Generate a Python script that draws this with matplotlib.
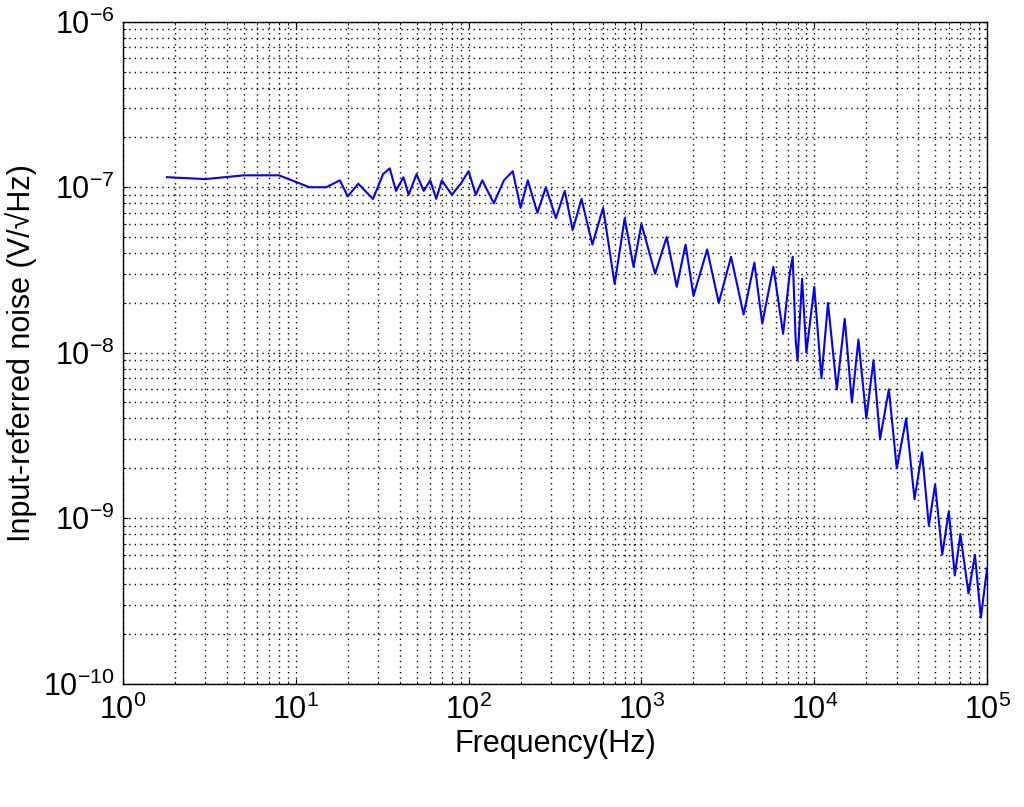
import matplotlib
matplotlib.use("Agg")
import matplotlib.pyplot as plt

plt.rcParams["font.family"] = "Liberation Sans"

# frequency (Hz) and input-referred noise (V/sqrt(Hz))
freq_hz = [
    1.8, 3, 5, 8, 12, 15, 18, 20, 23, 28, 32, 35, 38, 42, 45, 50, 55, 60, 65,
    70, 80, 90, 100, 110, 120, 140, 160, 180,
    200, 220, 250, 280, 320, 360, 400, 450, 520, 600, 700, 800, 900, 1000,
    1200, 1400, 1600, 1800, 2000, 2400, 2800, 3300, 3900, 4500, 5000, 5800,
    6600, 7200, 7500, 7800, 8000, 8500, 9000, 10000, 11000, 12000, 13500,
    15000, 16500, 18000, 20000, 22000, 24000, 27000, 30000, 34000, 38000,
    42000, 46000, 50000, 55000, 60000, 65000, 70000, 78000, 85000, 92000,
    100000,
]
noise_v = [
    1.15e-7, 1.12e-7, 1.18e-7, 1.18e-7, 1.0e-7, 1.0e-7, 1.1e-7, 0.88e-7,
    1.05e-7, 0.85e-7, 1.2e-7, 1.3e-7, 0.95e-7, 1.15e-7, 0.9e-7, 1.2e-7,
    0.95e-7, 1.1e-7, 0.85e-7, 1.1e-7, 0.9e-7, 1.05e-7, 1.25e-7, 0.9e-7,
    1.1e-7, 0.8e-7, 1.1e-7, 1.25e-7,
    0.75e-7, 1.1e-7, 0.7e-7, 1.0e-7, 0.65e-7, 0.95e-7, 0.55e-7, 0.85e-7,
    0.45e-7, 0.75e-7, 0.26e-7, 0.65e-7, 0.33e-7, 0.6e-7, 0.3e-7, 0.5e-7,
    0.25e-7, 0.45e-7, 0.22e-7, 0.42e-7, 0.2e-7, 0.38e-7, 0.17e-7, 0.35e-7,
    0.15e-7, 0.33e-7, 0.13e-7, 0.3e-7, 0.38e-7, 0.12e-7, 0.09e-7, 0.28e-7,
    0.1e-7, 0.25e-7, 7e-9, 2e-8, 6e-9,
    1.6e-8, 5e-9, 1.2e-8, 4e-9, 9e-9, 3e-9, 6e-9, 2e-9, 4e-9, 1.3e-9,
    2.5e-9, 9e-10, 1.6e-9, 6e-10, 1.1e-9, 4.5e-10, 8e-10, 3.5e-10, 6e-10,
    2.5e-10, 5e-10,
]

fig = plt.figure(figsize=(10.24, 8.07), dpi=100)
ax = fig.add_axes([0.12, 0.153, 0.844, 0.82])
ax.loglog(freq_hz, noise_v, color="#0000ff", linewidth=1.5)
ax.set_xlim(1, 1e5)
ax.set_ylim(1e-10, 1e-6)
ax.grid(True, which="both", color="black", linestyle=(0, (1, 3)), linewidth=1.0)
ax.tick_params(which="both", direction="in", top=True, right=True, labelsize=22)
ax.tick_params(axis="x", pad=8)
ax.tick_params(axis="y", pad=6)
for s in ax.spines.values():
    s.set_linewidth(1.0)
ax.set_xlabel("Frequency(Hz)", fontsize=22, labelpad=2)
ax.set_ylabel("Input-referred noise (V/\u221aHz)", fontsize=22)
fig.savefig("out.png", dpi=100, facecolor="white")
